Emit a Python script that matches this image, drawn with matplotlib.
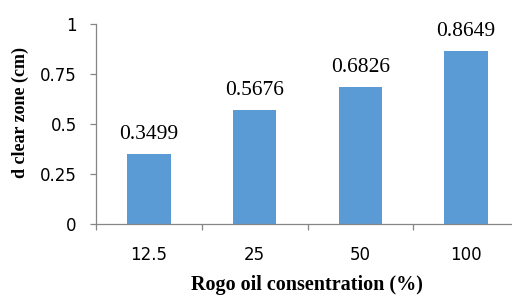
import matplotlib
matplotlib.use("Agg")
import matplotlib.pyplot as plt

# data
categories = ["12.5", "25", "50", "100"]
values = [0.3499, 0.5676, 0.6826, 0.8649]
value_labels = ["0.3499", "0.5676", "0.6826", "0.8649"]
yticks = [0, 0.25, 0.5, 0.75, 1]
ytick_labels = ["0", "0.25", "0.5", "0.75", "1"]

bar_color = "#5B9BD5"
axis_color = "#868686"

fig = plt.figure(figsize=(5.12, 2.95), dpi=100)
ax = fig.add_axes([96 / 512, 71 / 295, 423 / 512, 200 / 295])

x = list(range(len(categories)))
ax.bar(x, values, width=0.41, color=bar_color, zorder=2)

for xi, v, lab in zip(x, values, value_labels):
    ax.annotate(lab, (xi, v), xytext=(0, 11), textcoords="offset points",
                ha="center", va="baseline", fontsize=15.5,
                family="Liberation Serif", color="black")

ax.set_xlim(-0.5, len(categories) - 0.5)
ax.set_ylim(0, 1)

ax.set_yticks(yticks)
ax.set_yticklabels(ytick_labels, family="DejaVu Sans", fontsize=12)
ax.tick_params(axis="y", length=4.3, width=0.9, color=axis_color, pad=9.5)

# tick marks between categories, labels at category centres
ax.set_xticks([i - 0.5 for i in range(len(categories) + 1)])
ax.set_xticklabels([])
ax.set_xticks(x, minor=True)
ax.set_xticklabels(categories, minor=True, family="DejaVu Sans", fontsize=12)
ax.tick_params(axis="x", which="major", length=4.3, width=0.9, color=axis_color)
ax.tick_params(axis="x", which="minor", length=0, pad=16)

for s in ["top", "right"]:
    ax.spines[s].set_visible(False)
for s in ["left", "bottom"]:
    ax.spines[s].set_color(axis_color)
    ax.spines[s].set_linewidth(0.9)

fig.text(20 / 512, 1 - 112 / 295, "d clear zone (cm)", rotation=90,
         ha="center", va="center", fontsize=13, fontweight="bold",
         family="Liberation Serif")
fig.text(307 / 512, 1 - 285 / 295, "Rogo oil consentration (%)",
         ha="center", va="center", fontsize=14.5, fontweight="bold",
         family="Liberation Serif")

fig.savefig("out.png", dpi=100)
